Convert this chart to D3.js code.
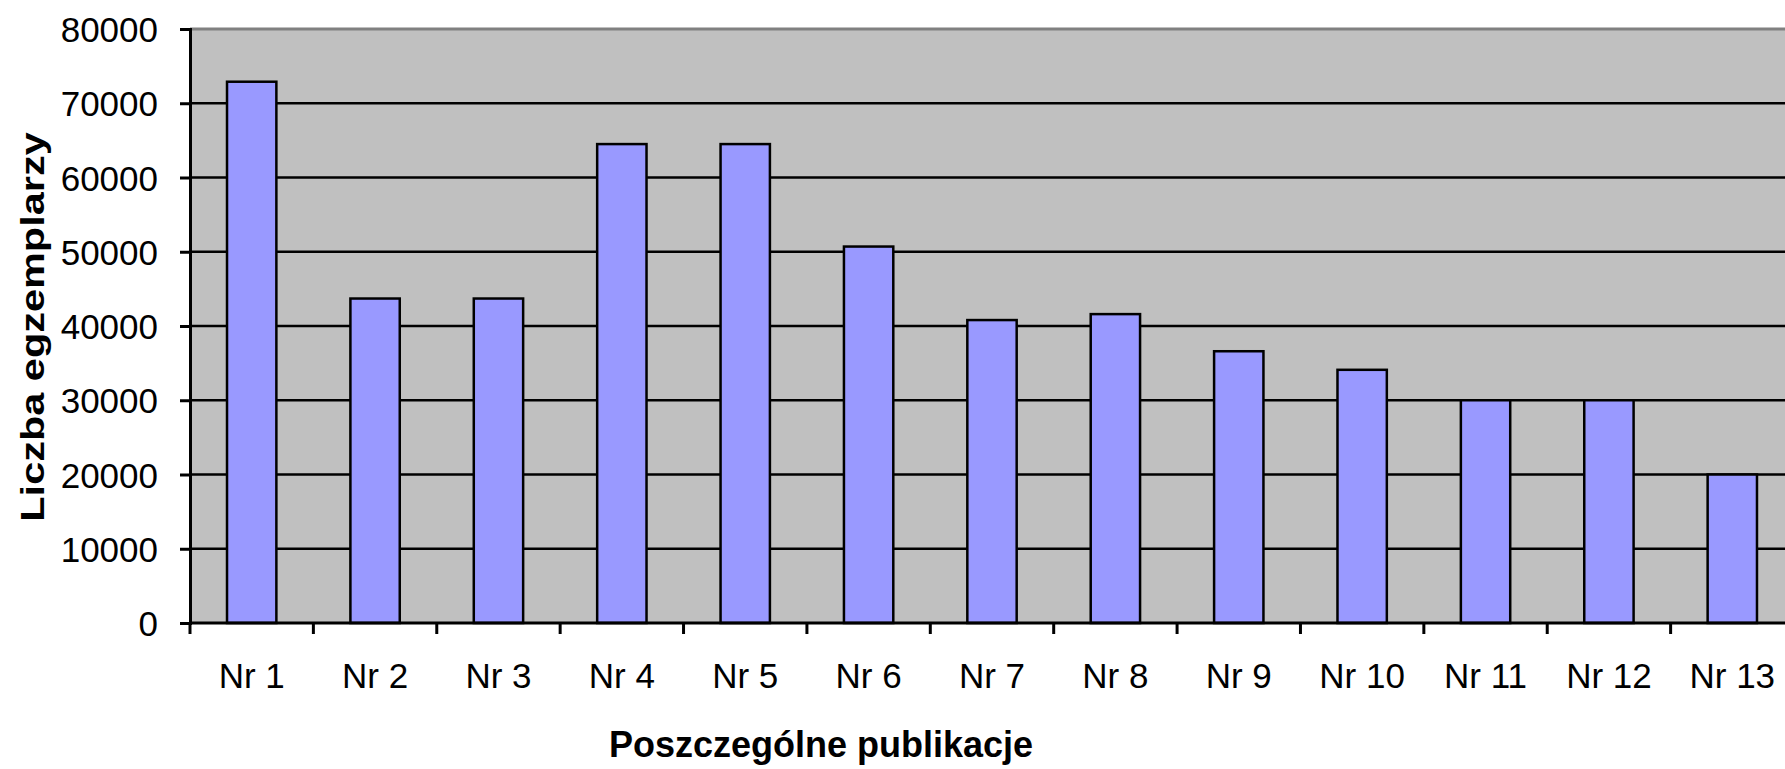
<!DOCTYPE html>
<html>
<head>
<meta charset="utf-8">
<script src="https://cdn.jsdelivr.net/npm/d3@7"></script>
<style>
    body { margin: 0; background: #fff; }
    svg text { font-family: "Liberation Sans", Arial, sans-serif; fill: #000; }
</style>
</head>
<body>
<div id="chart"></div>
<script>
var categories = ['Nr 1', 'Nr 2', 'Nr 3', 'Nr 4', 'Nr 5', 'Nr 6', 'Nr 7',
                  'Nr 8', 'Nr 9', 'Nr 10', 'Nr 11', 'Nr 12', 'Nr 13'];
var copies = [72900, 43700, 43700, 64500, 64500, 50700, 40800,
              41600, 36600, 34100, 30000, 30000, 20000];
var yTicks = [0, 10000, 20000, 30000, 40000, 50000, 60000, 70000, 80000];
var xTitle = 'Poszczególne publikacje';
var yTitle = 'Liczba egzemplarzy';

var width = 1785, height = 769;
var margin = { top: 29, left: 190, bottom: 146 };
var plotRight = 1794; // plot area runs past the right edge of the picture

var svg = d3.select('#chart').append('svg')
    .attr('width', width)
    .attr('height', height);

var x = d3.scaleBand()
    .domain(categories)
    .range([margin.left, plotRight])
    .paddingInner(0.6)
    .paddingOuter(0.3);

var y = d3.scaleLinear()
    .domain([0, 80000])
    .range([height - margin.bottom, margin.top]);

// plot area background
svg.append('rect')
    .attr('x', margin.left)
    .attr('y', y(80000))
    .attr('width', plotRight - margin.left)
    .attr('height', y(0) - y(80000))
    .attr('fill', '#c0c0c0');

// gridlines
svg.append('g')
    .selectAll('line')
    .data(yTicks.filter(function(d) { return d > 0 && d < 80000; }))
    .enter().append('line')
        .attr('x1', margin.left)
        .attr('x2', plotRight)
        .attr('y1', function(d) { return y(d); })
        .attr('y2', function(d) { return y(d); })
        .attr('stroke', '#000')
        .attr('stroke-width', 2.5);

// top border of the plot area
svg.append('line')
    .attr('x1', margin.left)
    .attr('x2', plotRight)
    .attr('y1', y(80000))
    .attr('y2', y(80000))
    .attr('stroke', '#808080')
    .attr('stroke-width', 3);

// bars
svg.append('g')
    .selectAll('rect')
    .data(copies)
    .enter().append('rect')
        .attr('x', function(d, i) { return x(categories[i]); })
        .attr('y', function(d) { return y(d); })
        .attr('width', x.bandwidth())
        .attr('height', function(d) { return y(0) - y(d); })
        .attr('fill', '#9999ff')
        .attr('stroke', '#000')
        .attr('stroke-width', 2.5);

// y axis
var yAxis = d3.axisLeft(y)
    .tickValues(yTicks)
    .tickSize(10)
    .tickPadding(22)
    .tickFormat(d3.format('d'));

var yGuide = svg.append('g')
    .attr('transform', 'translate(' + margin.left + ',0)')
    .call(yAxis);
yGuide.select('.domain').attr('stroke-width', 3);
yGuide.selectAll('.tick line').attr('stroke-width', 3);
yGuide.selectAll('.tick text')
    .attr('font-size', '35px')
    .attr('dy', '0.36em')
    .style('font-family', '"Liberation Sans", Arial, sans-serif');

// x axis: ticks sit between categories
var xBounds = d3.range(categories.length + 1).map(function(i) {
    return margin.left + i * x.step();
});
svg.append('line')
    .attr('x1', margin.left)
    .attr('x2', plotRight)
    .attr('y1', y(0))
    .attr('y2', y(0))
    .attr('stroke', '#000')
    .attr('stroke-width', 3);
svg.append('g')
    .selectAll('line')
    .data(xBounds)
    .enter().append('line')
        .attr('x1', function(d) { return d; })
        .attr('x2', function(d) { return d; })
        .attr('y1', y(0))
        .attr('y2', y(0) + 11)
        .attr('stroke', '#000')
        .attr('stroke-width', 3);

svg.append('g')
    .selectAll('text')
    .data(categories)
    .enter().append('text')
        .attr('x', function(d) { return x(d) + x.bandwidth() / 2; })
        .attr('y', 688)
        .attr('text-anchor', 'middle')
        .attr('font-size', '35px')
        .text(function(d) { return d; });

// axis titles
svg.append('text')
    .attr('x', 821)
    .attr('y', 757)
    .attr('text-anchor', 'middle')
    .attr('font-size', '36px')
    .attr('font-weight', 'bold')
    .text(xTitle);

// the y title is drawn stretched along its length, as in the original
svg.append('text')
    .attr('transform', 'translate(44,327) rotate(-90) scale(1.22,1)')
    .attr('text-anchor', 'middle')
    .attr('font-size', '34px')
    .attr('font-weight', 'bold')
    .text(yTitle);
</script>
</body>
</html>
